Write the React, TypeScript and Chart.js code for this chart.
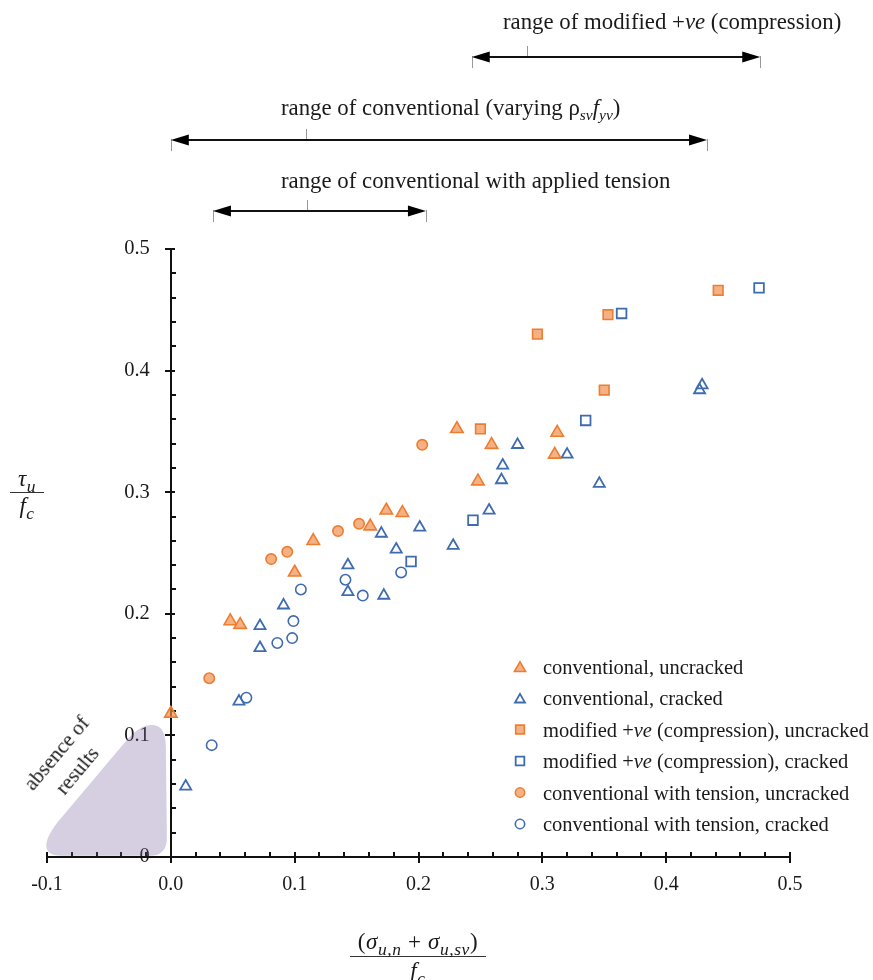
import React, { useEffect, useRef } from 'react';
import { Chart, registerables } from 'chart.js';

Chart.register(...registerables);

const FONT = "'Liberation Serif', 'Times New Roman', Times, serif";
const TEXT = '#1a1a1a';
const ORANGE = '#ED7D31';
const ORANGE_FILL = 'rgba(240,145,80,0.7)';
const BLUE = '#3F6BAF';
const BLUE_FILL = 'rgba(255,255,255,0)';

// ---------- axes ----------
const X_MIN = -0.1;
const X_MAX = 0.5;
const Y_MIN = 0;
const Y_MAX = 0.5;
const MINOR_STEP = 0.02;
const xTickValues = [-0.1, 0.0, 0.1, 0.2, 0.3, 0.4, 0.5];
const xTickLabels = ['-0.1', '0.0', '0.1', '0.2', '0.3', '0.4', '0.5'];
const yTickValues = [0, 0.1, 0.2, 0.3, 0.4, 0.5];
const yTickLabels = ['0', '0.1', '0.2', '0.3', '0.4', '0.5'];
// y tick labels are right-aligned at this x value (just left of the y axis at x = 0)
const Y_LABEL_ANCHOR_X = -0.017;

// ---------- data ----------
// conventional, uncracked (orange triangles)
const convUncrackedX = [0.0, 0.048, 0.056, 0.1, 0.115, 0.161, 0.174, 0.187, 0.231, 0.248, 0.259, 0.312, 0.31];
const convUncrackedY = [0.118, 0.194, 0.191, 0.234, 0.26, 0.272, 0.285, 0.283, 0.352, 0.309, 0.339, 0.349, 0.331];
// conventional, cracked (blue triangles)
const convCrackedX = [0.012, 0.055, 0.072, 0.072, 0.091, 0.143, 0.143, 0.172, 0.17, 0.182, 0.201, 0.228, 0.257, 0.267, 0.268, 0.28, 0.32, 0.346, 0.427, 0.429];
const convCrackedY = [0.058, 0.128, 0.19, 0.172, 0.207, 0.24, 0.218, 0.215, 0.266, 0.253, 0.271, 0.256, 0.285, 0.31, 0.322, 0.339, 0.331, 0.307, 0.384, 0.388];
// modified +ve (compression), uncracked (orange squares)
const modUncrackedX = [0.25, 0.296, 0.35, 0.353, 0.442];
const modUncrackedY = [0.352, 0.43, 0.384, 0.446, 0.466];
// modified +ve (compression), cracked (blue squares)
const modCrackedX = [0.194, 0.244, 0.335, 0.364, 0.475];
const modCrackedY = [0.243, 0.277, 0.359, 0.447, 0.468];
// conventional with tension, uncracked (orange circles)
const tensUncrackedX = [0.031, 0.081, 0.094, 0.135, 0.152, 0.203];
const tensUncrackedY = [0.147, 0.245, 0.251, 0.268, 0.274, 0.339];
// conventional with tension, cracked (blue circles)
const tensCrackedX = [0.033, 0.061, 0.086, 0.098, 0.099, 0.105, 0.141, 0.155, 0.186];
const tensCrackedY = [0.092, 0.131, 0.176, 0.18, 0.194, 0.22, 0.228, 0.215, 0.234];

const seriesLabels = [
  'conventional, uncracked',
  'conventional, cracked',
  'modified +ve (compression), uncracked',
  'modified +ve (compression), cracked',
  'conventional with tension, uncracked',
  'conventional with tension, cracked',
];

// range annotations (x-values)
const rangeStart = [0.243, 0.0, 0.034];
const rangeEnd = [0.476, 0.433, 0.206];
const rangeAnchor = [0.288, 0.109, 0.11];

// "absence of results" region outline in data units
const blobPath: [string, number[]][] = [
  ['M', [-0.088, 0.001]],
  ['L', [-0.017, 0.001]],
  ['Q', [-0.0032, 0.001, -0.0032, 0.0156]],
  ['L', [-0.004, 0.0896]],
  ['C', [-0.004, 0.1003, -0.0065, 0.1085, -0.0153, 0.1085]],
  ['C', [-0.022, 0.1085, -0.027, 0.105, -0.034, 0.098]],
  ['L', [-0.0913, 0.0288]],
  ['C', [-0.1026, 0.014, -0.1058, 0.001, -0.088, 0.001]],
];

type Style = { shape: 'triangle' | 'rect' | 'circle'; r: number; fill: string; stroke: string; lw: number };
const styles: Style[] = [
  { shape: 'triangle', r: 7.2, fill: ORANGE_FILL, stroke: ORANGE, lw: 1.6 },
  { shape: 'triangle', r: 6.4, fill: BLUE_FILL, stroke: BLUE, lw: 1.8 },
  { shape: 'rect', r: 6.8, fill: ORANGE_FILL, stroke: ORANGE, lw: 1.6 },
  { shape: 'rect', r: 6.8, fill: BLUE_FILL, stroke: BLUE, lw: 1.8 },
  { shape: 'circle', r: 5.2, fill: ORANGE_FILL, stroke: ORANGE, lw: 1.6 },
  { shape: 'circle', r: 5.2, fill: BLUE_FILL, stroke: BLUE, lw: 1.6 },
];

const seriesX = [convUncrackedX, convCrackedX, modUncrackedX, modCrackedX, tensUncrackedX, tensCrackedX];
const seriesY = [convUncrackedY, convCrackedY, modUncrackedY, modCrackedY, tensUncrackedY, tensCrackedY];

function drawMarker(ctx: CanvasRenderingContext2D, st: Style, x: number, y: number) {
  const r = st.r;
  ctx.save();
  ctx.beginPath();
  if (st.shape === 'triangle') {
    ctx.moveTo(x, y - r);
    ctx.lineTo(x + r * 0.866, y + r * 0.5);
    ctx.lineTo(x - r * 0.866, y + r * 0.5);
    ctx.closePath();
  } else if (st.shape === 'rect') {
    const s = r * Math.SQRT1_2;
    ctx.rect(x - s, y - s, 2 * s, 2 * s);
  } else {
    ctx.arc(x, y, r, 0, Math.PI * 2);
  }
  ctx.fillStyle = st.fill;
  ctx.fill();
  ctx.lineWidth = st.lw;
  ctx.strokeStyle = st.stroke;
  ctx.stroke();
  ctx.restore();
}

const LEGEND_X = 520;
const LEGEND_Y0 = 666.5;
const LEGEND_DY = 31.5;
const ARROW_ROWS = [57, 140, 211];

const axesPlugin = {
  id: 'customAxes',
  beforeDatasetsDraw(chart: any) {
    const { ctx } = chart;
    const x = chart.scales.x;
    const y = chart.scales.y;
    const x0 = Math.round(x.getPixelForValue(0));
    const y0 = Math.round(y.getPixelForValue(0));
    ctx.save();
    ctx.strokeStyle = '#111';
    ctx.lineWidth = 2;
    ctx.beginPath();
    ctx.moveTo(x.getPixelForValue(X_MIN) - 1, y0);
    ctx.lineTo(x.getPixelForValue(X_MAX) + 1, y0);
    ctx.stroke();
    ctx.beginPath();
    ctx.moveTo(x0, y0 + 1);
    ctx.lineTo(x0, y.getPixelForValue(Y_MAX) - 1);
    ctx.stroke();
    const nX = Math.round((X_MAX - X_MIN) / MINOR_STEP);
    for (let i = 0; i <= nX; i++) {
      const px = Math.round(x.getPixelForValue(X_MIN + i * MINOR_STEP));
      ctx.beginPath();
      if (i % 5 === 0) {
        ctx.moveTo(px, y0 - 5);
        ctx.lineTo(px, y0 + 6);
      } else {
        ctx.moveTo(px, y0);
        ctx.lineTo(px, y0 - 5);
      }
      ctx.stroke();
    }
    const nY = Math.round((Y_MAX - Y_MIN) / MINOR_STEP);
    for (let i = 1; i <= nY; i++) {
      const py = Math.round(y.getPixelForValue(Y_MIN + i * MINOR_STEP));
      ctx.beginPath();
      if (i % 5 === 0) {
        ctx.moveTo(x0 - 6, py);
        ctx.lineTo(x0 + 4, py);
      } else {
        ctx.moveTo(x0, py);
        ctx.lineTo(x0 + 5, py);
      }
      ctx.stroke();
    }
    ctx.restore();
  },
};

const overlayPlugin = {
  id: 'overlay',
  afterDraw(chart: any) {
    const { ctx } = chart;
    const x = chart.scales.x;
    const y = chart.scales.y;
    const X = (v: number) => x.getPixelForValue(v);
    const Y = (v: number) => y.getPixelForValue(v);
    // "absence of results" blob
    ctx.save();
    ctx.beginPath();
    for (const [cmd, a] of blobPath) {
      if (cmd === 'M') ctx.moveTo(X(a[0]), Y(a[1]));
      else if (cmd === 'L') ctx.lineTo(X(a[0]), Y(a[1]));
      else if (cmd === 'Q') ctx.quadraticCurveTo(X(a[0]), Y(a[1]), X(a[2]), Y(a[3]));
      else if (cmd === 'C') ctx.bezierCurveTo(X(a[0]), Y(a[1]), X(a[2]), Y(a[3]), X(a[4]), Y(a[5]));
    }
    ctx.closePath();
    ctx.fillStyle = 'rgba(120,95,160,0.3)';
    ctx.fill();
    ctx.restore();

    // range arrows
    ctx.save();
    for (let i = 0; i < rangeStart.length; i++) {
      const yy = ARROW_ROWS[i];
      const x1 = X(rangeStart[i]);
      const x2 = X(rangeEnd[i]);
      const xa = Math.round(X(rangeAnchor[i])) + 0.5;
      ctx.strokeStyle = '#999';
      ctx.lineWidth = 1;
      ctx.beginPath();
      ctx.moveTo(Math.round(x1) + 0.5, yy - 1);
      ctx.lineTo(Math.round(x1) + 0.5, yy + 11);
      ctx.moveTo(Math.round(x2) + 0.5, yy - 1);
      ctx.lineTo(Math.round(x2) + 0.5, yy + 11);
      ctx.moveTo(xa, yy - 11);
      ctx.lineTo(xa, yy);
      ctx.stroke();
      ctx.strokeStyle = '#111';
      ctx.lineWidth = 2.2;
      ctx.beginPath();
      ctx.moveTo(x1 + 10, yy);
      ctx.lineTo(x2 - 10, yy);
      ctx.stroke();
      ctx.fillStyle = '#000';
      ctx.beginPath();
      ctx.moveTo(x1, yy);
      ctx.lineTo(x1 + 18, yy - 5.5);
      ctx.lineTo(x1 + 18, yy + 5.5);
      ctx.closePath();
      ctx.fill();
      ctx.beginPath();
      ctx.moveTo(x2, yy);
      ctx.lineTo(x2 - 18, yy - 5.5);
      ctx.lineTo(x2 - 18, yy + 5.5);
      ctx.closePath();
      ctx.fill();
    }
    ctx.restore();

    // legend markers
    styles.forEach((st, i) => {
      const yy = LEGEND_Y0 + i * LEGEND_DY + (st.shape === 'triangle' ? st.r * 0.25 : 0);
      drawMarker(ctx, { ...st, r: st.r * 0.9 }, LEGEND_X, yy);
    });
  },
};

function richLabel(s: string) {
  const idx = s.indexOf('+ve');
  if (idx < 0) return s;
  return (
    <>
      {s.slice(0, idx)}+<i>ve</i>
      {s.slice(idx + 3)}
    </>
  );
}

const sub: React.CSSProperties = { fontSize: '0.68em', verticalAlign: '-0.3em', lineHeight: 0, fontStyle: 'italic' };
const msub: React.CSSProperties = { fontSize: '0.76em', verticalAlign: '-0.32em', lineHeight: 0, fontStyle: 'italic' };

export default function App() {
  const ref = useRef<HTMLCanvasElement>(null);
  useEffect(() => {
    const canvas = ref.current!;
    const datasets = seriesLabels.map((label, i) => ({
      label,
      data: seriesX[i].map((xv, k) => ({ x: xv, y: seriesY[i][k] })),
      pointStyle: styles[i].shape,
      pointRadius: styles[i].r,
      pointHoverRadius: styles[i].r,
      backgroundColor: styles[i].fill,
      borderColor: styles[i].stroke,
      borderWidth: styles[i].lw,
      showLine: false,
    }));
    const chart = new Chart(canvas, {
      type: 'scatter',
      data: { datasets },
      options: {
        responsive: false,
        animation: false,
        devicePixelRatio: 1,
        layout: { padding: { left: 47, right: 83, top: 249, bottom: 0 } },
        plugins: { legend: { display: false }, tooltip: { enabled: false } },
        scales: {
          x: {
            type: 'linear',
            position: 'bottom',
            min: X_MIN,
            max: X_MAX,
            afterBuildTicks: (s: any) => {
              s.ticks = xTickValues.map((v) => ({ value: v }));
            },
            afterFit: (s: any) => {
              s.height = 123;
            },
            ticks: {
              autoSkip: false,
              maxRotation: 0,
              padding: 16,
              color: TEXT,
              font: { family: FONT, size: 20 },
              callback: (v: any) => {
                const i = xTickValues.findIndex((t) => Math.abs(t - v) < 1e-9);
                return i >= 0 ? xTickLabels[i] : '';
              },
            },
            grid: { display: false, drawTicks: false },
            border: { display: false },
          },
          y: {
            type: 'linear',
            position: { x: Y_LABEL_ANCHOR_X } as any,
            min: Y_MIN,
            max: Y_MAX,
            afterBuildTicks: (s: any) => {
              s.ticks = yTickValues.map((v) => ({ value: v }));
            },
            ticks: {
              autoSkip: false,
              padding: 0,
              color: TEXT,
              font: { family: FONT, size: 20.5 },
              callback: (v: any) => {
                const i = yTickValues.findIndex((t) => Math.abs(t - v) < 1e-9);
                return i >= 0 ? yTickLabels[i] : '';
              },
            },
            grid: { display: false, drawTicks: false },
            border: { display: false },
          },
        },
      } as any,
      plugins: [axesPlugin, overlayPlugin],
    });
    return () => chart.destroy();
  }, []);

  const abs: React.CSSProperties = { position: 'absolute', whiteSpace: 'nowrap' };
  const topText: React.CSSProperties = { ...abs, fontSize: 22.8, lineHeight: '26px' };
  return (
    <div style={{ position: 'absolute', left: 0, top: 0, width: 873, height: 980, overflow: 'hidden', fontFamily: FONT, color: TEXT, background: '#fff' }}>
      <canvas ref={ref} width={873} height={980} style={{ position: 'absolute', left: 0, top: 0 }} />
      {/* range annotations */}
      <div style={{ ...topText, left: 503, top: 9 }}>
        range of modified +<i>ve</i> (compression)
      </div>
      <div style={{ ...topText, left: 281, top: 95 }}>
        range of conventional (varying ρ<span style={sub}>sv</span>
        <i>f</i>
        <span style={sub}>yv</span>)
      </div>
      <div style={{ ...topText, left: 281, top: 168 }}>
        range of conventional with applied tension
      </div>
      {/* y title */}
      <div style={{ ...abs, left: 10, top: 466, width: 34, textAlign: 'center', fontSize: 23, fontStyle: 'italic', letterSpacing: '0.5px' }}>
        <div style={{ borderBottom: '1.5px solid #333', lineHeight: '26px' }}>
          τ<span style={msub}>u</span>
        </div>
        <div style={{ lineHeight: '26px' }}>
          f<span style={msub}>c</span>
        </div>
      </div>
      {/* x title */}
      <div style={{ ...abs, left: 350, top: 928, width: 136, textAlign: 'center', fontSize: 23, letterSpacing: '0.6px' }}>
        <div style={{ borderBottom: '1.5px solid #333', lineHeight: '28px' }}>
          (<i>σ</i>
          <span style={msub}>u,n</span> + <i>σ</i>
          <span style={msub}>u,sv</span>)
        </div>
        <div style={{ lineHeight: '28px' }}>
          <i>f</i>
          <span style={msub}>c</span>
        </div>
      </div>
      {/* absence of results */}
      <div
        style={{
          ...abs,
          left: 67 - 70,
          top: 762 - 27,
          width: 140,
          height: 54,
          textAlign: 'center',
          fontSize: 21,
          lineHeight: '27px',
          transform: 'rotate(-50deg)',
          transformOrigin: '50% 50%',
        }}
      >
        absence of
        <br />
        results
      </div>
      {/* legend text */}
      {seriesLabels.map((l, i) => (
        <div key={l} style={{ ...abs, left: 543, top: LEGEND_Y0 + i * LEGEND_DY - 12, fontSize: 20.5, lineHeight: '24px' }}>
          {richLabel(l)}
        </div>
      ))}
    </div>
  );
}
